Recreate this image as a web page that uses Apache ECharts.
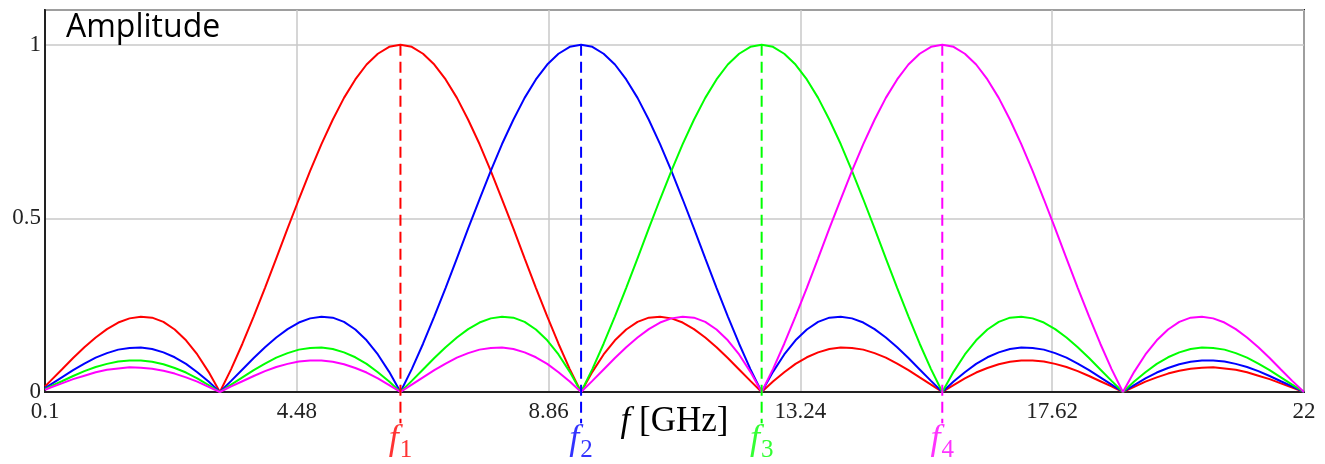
<!DOCTYPE html>
<html lang="en">
<head>
	<meta charset="UTF-8">
	<title>Amplitude</title>
	<script src="https://cdn.jsdelivr.net/npm/echarts@6/dist/echarts.min.js"></script>
	<style>
		html, body { margin: 0; padding: 0; background: #fff; }
	</style>
</head>
<body>
	<div id="main" style="width: 1325px;height: 464px;"></div>
	<script>
		// frequency samples [GHz]
		var freq = [0.1,
			0.196, 0.393, 0.589, 0.785, 0.982, 1.178, 1.374, 1.571, 1.767, 1.963, 2.160, 2.356, 2.553, 2.749, 2.945, 3.142,
			3.338, 3.534, 3.731, 3.927, 4.123, 4.320, 4.516, 4.712, 4.909, 5.105, 5.301, 5.498, 5.694, 5.890, 6.087, 6.283,
			6.480, 6.676, 6.872, 7.069, 7.265, 7.461, 7.658, 7.854, 8.050, 8.247, 8.443, 8.639, 8.836, 9.032, 9.228, 9.425,
			9.621, 9.817, 10.014, 10.210, 10.407, 10.603, 10.799, 10.996, 11.192, 11.388, 11.585, 11.781, 11.977, 12.174, 12.370, 12.566,
			12.763, 12.959, 13.155, 13.352, 13.548, 13.744, 13.941, 14.137, 14.334, 14.530, 14.726, 14.923, 15.119, 15.315, 15.512, 15.708,
			15.904, 16.101, 16.297, 16.493, 16.690, 16.886, 17.082, 17.279, 17.475, 17.671, 17.868, 18.064, 18.261, 18.457, 18.653, 18.850,
			19.046, 19.242, 19.439, 19.635, 19.831, 20.028, 20.224, 20.420, 20.617, 20.813, 21.009, 21.206, 21.402, 21.598, 21.795, 22];

		var ampRed = [0.016,
			0.032, 0.065, 0.098, 0.129, 0.157, 0.181, 0.200, 0.212, 0.217, 0.214, 0.202, 0.180, 0.149, 0.108, 0.058, 0,
			0.066, 0.139, 0.218, 0.300, 0.385, 0.471, 0.555, 0.637, 0.714, 0.784, 0.847, 0.900, 0.943, 0.974, 0.994, 1,
			0.994, 0.974, 0.943, 0.900, 0.847, 0.784, 0.714, 0.637, 0.555, 0.471, 0.385, 0.300, 0.218, 0.139, 0.066, 0,
			0.058, 0.108, 0.149, 0.180, 0.202, 0.214, 0.217, 0.212, 0.200, 0.181, 0.157, 0.129, 0.098, 0.065, 0.032, 0,
			0.030, 0.057, 0.081, 0.100, 0.114, 0.124, 0.128, 0.127, 0.122, 0.112, 0.099, 0.082, 0.063, 0.042, 0.021, 0,
			0.020, 0.039, 0.056, 0.069, 0.080, 0.087, 0.091, 0.091, 0.088, 0.081, 0.072, 0.060, 0.046, 0.031, 0.016, 0,
			0.015, 0.030, 0.042, 0.053, 0.061, 0.067, 0.070, 0.071, 0.068, 0.064, 0.057, 0.047, 0.037, 0.025, 0.013, 0];

		var ampBlue = [0.011,
			0.021, 0.042, 0.063, 0.082, 0.099, 0.112, 0.122, 0.127, 0.128, 0.124, 0.114, 0.100, 0.081, 0.057, 0.030, 0,
			0.032, 0.065, 0.098, 0.129, 0.157, 0.181, 0.200, 0.212, 0.217, 0.214, 0.202, 0.180, 0.149, 0.108, 0.058, 0,
			0.066, 0.139, 0.218, 0.300, 0.385, 0.471, 0.555, 0.637, 0.714, 0.784, 0.847, 0.900, 0.943, 0.974, 0.994, 1,
			0.994, 0.974, 0.943, 0.900, 0.847, 0.784, 0.714, 0.637, 0.555, 0.471, 0.385, 0.300, 0.218, 0.139, 0.066, 0,
			0.058, 0.108, 0.149, 0.180, 0.202, 0.214, 0.217, 0.212, 0.200, 0.181, 0.157, 0.129, 0.098, 0.065, 0.032, 0,
			0.030, 0.057, 0.081, 0.100, 0.114, 0.124, 0.128, 0.127, 0.122, 0.112, 0.099, 0.082, 0.063, 0.042, 0.021, 0,
			0.020, 0.039, 0.056, 0.069, 0.080, 0.087, 0.091, 0.091, 0.088, 0.081, 0.072, 0.060, 0.046, 0.031, 0.016, 0];

		var ampGreen = [0.008,
			0.016, 0.031, 0.046, 0.060, 0.072, 0.081, 0.088, 0.091, 0.091, 0.087, 0.080, 0.069, 0.056, 0.039, 0.020, 0,
			0.021, 0.042, 0.063, 0.082, 0.099, 0.112, 0.122, 0.127, 0.128, 0.124, 0.114, 0.100, 0.081, 0.057, 0.030, 0,
			0.032, 0.065, 0.098, 0.129, 0.157, 0.181, 0.200, 0.212, 0.217, 0.214, 0.202, 0.180, 0.149, 0.108, 0.058, 0,
			0.066, 0.139, 0.218, 0.300, 0.385, 0.471, 0.555, 0.637, 0.714, 0.784, 0.847, 0.900, 0.943, 0.974, 0.994, 1,
			0.994, 0.974, 0.943, 0.900, 0.847, 0.784, 0.714, 0.637, 0.555, 0.471, 0.385, 0.300, 0.218, 0.139, 0.066, 0,
			0.058, 0.108, 0.149, 0.180, 0.202, 0.214, 0.217, 0.212, 0.200, 0.181, 0.157, 0.129, 0.098, 0.065, 0.032, 0,
			0.030, 0.057, 0.081, 0.100, 0.114, 0.124, 0.128, 0.127, 0.122, 0.112, 0.099, 0.082, 0.063, 0.042, 0.021, 0];

		var ampMagenta = [0.006,
			0.013, 0.025, 0.037, 0.047, 0.057, 0.064, 0.068, 0.071, 0.070, 0.067, 0.061, 0.053, 0.042, 0.030, 0.015, 0,
			0.016, 0.031, 0.046, 0.060, 0.072, 0.081, 0.088, 0.091, 0.091, 0.087, 0.080, 0.069, 0.056, 0.039, 0.020, 0,
			0.021, 0.042, 0.063, 0.082, 0.099, 0.112, 0.122, 0.127, 0.128, 0.124, 0.114, 0.100, 0.081, 0.057, 0.030, 0,
			0.032, 0.065, 0.098, 0.129, 0.157, 0.181, 0.200, 0.212, 0.217, 0.214, 0.202, 0.180, 0.149, 0.108, 0.058, 0,
			0.066, 0.139, 0.218, 0.300, 0.385, 0.471, 0.555, 0.637, 0.714, 0.784, 0.847, 0.900, 0.943, 0.974, 0.994, 1,
			0.994, 0.974, 0.943, 0.900, 0.847, 0.784, 0.714, 0.637, 0.555, 0.471, 0.385, 0.300, 0.218, 0.139, 0.066, 0,
			0.058, 0.108, 0.149, 0.180, 0.202, 0.214, 0.217, 0.212, 0.200, 0.181, 0.157, 0.129, 0.098, 0.065, 0.032, 0];

		// centre frequencies f1..f4 and their colours
		var centerFreqs = [6.283, 9.425, 12.566, 15.708];
		var centerNames = ['1', '2', '3', '4'];
		var colors = ['#ff0000', '#0000ff', '#00ff00', '#ff00ff'];

		var xTicks = [0.1, 4.48, 8.86, 13.24, 17.62, 22];
		var yTicks = [0, 0.5, 1];

		var serif = '"Liberation Serif", "DejaVu Serif", serif';

		function pairs(ys) {
			return freq.map(function (f, i) { return [f, ys[i]]; });
		}

		var series = [];
		[ampRed, ampBlue, ampGreen, ampMagenta].forEach(function (ys, i) {
			series.push({
				type: 'line',
				data: pairs(ys),
				symbol: 'none',
				silent: true,
				lineStyle: { color: colors[i], width: 2 },
				z: 3
			});
		});

		centerFreqs.forEach(function (f, i) {
			series.push({
				type: 'line',
				data: [[f, 1], [f, -0.09]],
				symbol: 'none',
				clip: false,
				silent: true,
				lineStyle: { color: colors[i], width: 2, type: [11, 6] },
				z: 4
			});
			series.push({
				type: 'scatter',
				data: [[f, -0.09]],
				symbolSize: 0,
				clip: false,
				silent: true,
				label: {
					show: true,
					position: 'bottom',
					distance: -2,
					formatter: '{f|f}{s|' + centerNames[i] + '}',
					rich: {
						f: { fontFamily: serif, fontStyle: 'italic', fontSize: 36, color: colors[i], padding: [0, 1, 6, 0] },
						s: { fontFamily: serif, fontSize: 25, color: colors[i], verticalAlign: 'bottom' }
					}
				}
			});
		});

		var myChart = echarts.init(document.getElementById('main'));
		myChart.setOption({
			animation: false,
			title: {
				text: 'Amplitude',
				left: 66,
				top: 12,
				padding: 0,
				textStyle: { fontFamily: '"Open Sans", sans-serif', fontSize: 32, fontWeight: 'normal', color: '#000' }
			},
			grid: {
				left: 45,
				right: 21,
				top: 10,
				bottom: 72,
				show: true,
				borderColor: '#222',
				borderWidth: 2
			},
			xAxis: {
				type: 'value',
				min: xTicks[0],
				max: xTicks[xTicks.length - 1],
				interval: 4.38,
				axisLine: { show: true, onZero: false, lineStyle: { color: '#222', width: 2 } },
				axisTick: { show: false },
				splitLine: { show: true, lineStyle: { color: '#c8c8c8', width: 1.5 } },
				axisLabel: {
					fontFamily: serif,
					fontSize: 23,
					color: '#222',
					margin: 8,
					formatter: function (v) { return String(+v.toFixed(2)); }
				},
				name: '{i|f} [GHz]',
				nameLocation: 'middle',
				nameGap: 12,
				nameMoveOverlap: false,
				nameTextStyle: {
					fontFamily: serif,
					fontSize: 35,
					color: '#000',
					rich: {
						i: { fontFamily: serif, fontStyle: 'italic', fontSize: 35, color: '#000' }
					}
				}
			},
			yAxis: {
				type: 'value',
				min: 0,
				max: 1.1,
				interval: 0.5,
				axisLine: { show: true, lineStyle: { color: '#222', width: 2 } },
				axisTick: { show: false },
				splitLine: { show: true, lineStyle: { color: '#c8c8c8', width: 1.5 } },
				axisLabel: {
					fontFamily: serif,
					fontSize: 23,
					color: '#222',
					margin: 4,
					showMaxLabel: false,
					formatter: function (v) { return yTicks.indexOf(v) >= 0 ? String(v) : ''; }
				}
			},
			series: series
		});
	</script>
</body>
</html>
